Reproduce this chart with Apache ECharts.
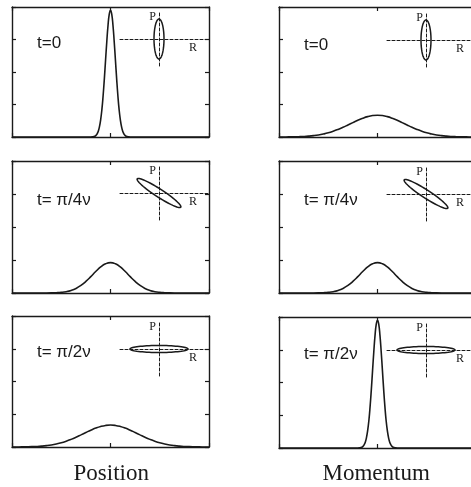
<!DOCTYPE html>
<html>
<head>
<meta charset="utf-8">
<script src="https://cdn.jsdelivr.net/npm/echarts@6/dist/echarts.min.js"></script>
<style>
  html, body { margin: 0; padding: 0; background: #fff; }
  #main { width: 471px; height: 487px; }
</style>
</head>
<body>
<div id="main"></div>
<script>
// narrow gaussian (read on a fine grid around the peak)
var narrowX = [-10, -2, -1.75, -1.625, -1.5, -1.375, -1.25, -1.125, -1, -0.875, -0.75, -0.625, -0.5, -0.375, -0.25, -0.125,
  0, 0.125, 0.25, 0.375, 0.5, 0.625, 0.75, 0.875, 1, 1.125, 1.25, 1.375, 1.5, 1.625, 1.75, 2, 10];
var narrowY = [0, 0, 0.01, 0.02, 0.04, 0.09, 0.17, 0.31, 0.53, 0.84, 1.27, 1.79, 2.37, 2.94, 3.44, 3.78,
  3.90, 3.78, 3.44, 2.94, 2.37, 1.79, 1.27, 0.84, 0.53, 0.31, 0.17, 0.09, 0.04, 0.02, 0.01, 0, 0];

// broad curves, read every half unit
var broadX = [-10, -9.5, -9, -8.5, -8, -7.5, -7, -6.5, -6, -5.5, -5, -4.5, -4, -3.5, -3, -2.5, -2, -1.5, -1, -0.5,
  0, 0.5, 1, 1.5, 2, 2.5, 3, 3.5, 4, 4.5, 5, 5.5, 6, 6.5, 7, 7.5, 8, 8.5, 9, 9.5, 10];
var midY = [0, 0, 0, 0, 0, 0, 0, 0.001, 0.004, 0.009, 0.019, 0.040, 0.078, 0.139, 0.229, 0.351, 0.496, 0.650, 0.788, 0.885,
  0.92, 0.885, 0.788, 0.650, 0.496, 0.351, 0.229, 0.139, 0.078, 0.040, 0.019, 0.009, 0.004, 0.001, 0, 0, 0, 0, 0, 0, 0];
var wideY = [0.001, 0.002, 0.003, 0.006, 0.010, 0.016, 0.026, 0.041, 0.062, 0.091, 0.128, 0.176, 0.233, 0.298, 0.370, 0.443, 0.514, 0.577, 0.627, 0.659,
  0.670, 0.659, 0.627, 0.577, 0.514, 0.443, 0.370, 0.298, 0.233, 0.176, 0.128, 0.091, 0.062, 0.041, 0.026, 0.016, 0.010, 0.006, 0.003, 0.002, 0.001];

// panels: position left column, momentum right column
var panelCurve = ['narrow', 'wide', 'mid', 'mid', 'wide', 'narrow'];
var timeLabels = ['t=0', 't=0', 't= π/4ν', 't= π/4ν', 't= π/2ν', 't= π/2ν'];
var columnLabels = ['Position', 'Momentum'];

// phase space ellipse per panel: semi axes (R, P) and tilt in degrees
var ellipseRx = [5, 5, 26, 26, 29, 29];
var ellipseRy = [20, 20, 4, 4, 3.5, 3.5];
var ellipseTilt = [0, 0, -33, -33, 0, 0];

function pairs(xs, ys) {
  return xs.map(function (x, i) { return [x, ys[i]]; });
}
var curves = {
  narrow: pairs(narrowX, narrowY),
  mid: pairs(broadX, midY),
  wide: pairs(broadX, wideY)
};

var ink = '#1a1a1a';
var colLeft = [12, 279];
var rowTop = [7, 161, 316];
var rowHeight = [130, 132, 131];
var panelW = 197;
var rowCenter = [39, 193, 349];
var labelCenter = [[45, 47], [202, 202], [354, 356]];

var grids = [], xAxes = [], yAxes = [], seriesList = [], texts = [];

function frameAxis(g, pos, isX) {
  var a = {
    type: 'value', gridIndex: g, position: pos,
    axisLine: { show: true, onZero: false, lineStyle: { color: ink, width: 1.4 } },
    axisTick: { show: true, inside: true, length: 4, lineStyle: { color: ink, width: 1.2 } },
    axisLabel: { show: false }, splitLine: { show: false }
  };
  if (isX) { a.min = -10; a.max = 10; a.interval = 10; }
  else { a.min = 0; a.max = 4; a.interval = 1; }
  return a;
}

function insetAxis(g, name, isX) {
  return {
    type: 'value', gridIndex: g,
    min: isX ? -39 : -27, max: isX ? 50 : 27,
    name: name, nameLocation: 'end', nameGap: isX ? -20 : -11,
    nameTextStyle: isX
      ? { color: ink, fontFamily: 'Liberation Serif', fontSize: 12, align: 'left', verticalAlign: 'top', padding: [3, 0, 0, 0] }
      : { color: ink, fontFamily: 'Liberation Serif', fontSize: 12, align: 'right', verticalAlign: 'bottom', padding: [0, 3, 0, 0] },
    axisLine: { show: true, onZero: true, lineStyle: { color: ink, width: 1, type: [3, 2] } },
    axisTick: { show: false }, axisLabel: { show: false }, splitLine: { show: false }
  };
}

function drawEllipse(params, api) {
  var c = api.coord([api.value(0), api.value(1)]);
  var s = api.size([api.value(2), api.value(3)]);
  var t = api.value(4) * Math.PI / 180;
  var pts = [];
  for (var k = 0; k < 72; k++) {
    var a = k / 72 * Math.PI * 2;
    var ex = s[0] * Math.cos(a), ey = s[1] * Math.sin(a);
    pts.push([c[0] + ex * Math.cos(t) + ey * Math.sin(t), c[1] - ex * Math.sin(t) + ey * Math.cos(t)]);
  }
  return {
    type: 'polygon',
    shape: { points: pts },
    style: { fill: 'none', stroke: ink, lineWidth: 1.5 }
  };
}

for (var i = 0; i < 6; i++) {
  var col = i % 2, row = Math.floor(i / 2);
  var panelLeft = colLeft[col];
  var panelTop = rowTop[row] + (col === 1 && row === 2 ? 1 : 0);

  // main panel
  grids.push({ left: panelLeft, top: panelTop, width: panelW, height: rowHeight[row], outerBoundsMode: 'none' });
  var g = grids.length - 1;
  var xb = xAxes.length;
  xAxes.push(frameAxis(g, 'bottom', true));
  xAxes.push(frameAxis(g, 'top', true));
  var yl = yAxes.length;
  yAxes.push(frameAxis(g, 'left', false));
  yAxes.push(frameAxis(g, 'right', false));

  seriesList.push({
    type: 'line', xAxisIndex: xb, yAxisIndex: yl,
    data: curves[panelCurve[i]],
    showSymbol: false, smooth: true, silent: true,
    lineStyle: { color: ink, width: 1.6 }
  });

  // phase space inset
  var cy = rowCenter[row] + (col === 1 ? 1 : 0);
  grids.push({ left: panelLeft + 108, top: cy - 27, width: 89, height: 54, outerBoundsMode: 'none' });
  var gi = grids.length - 1;
  var ix = xAxes.length;
  xAxes.push(insetAxis(gi, 'R', true));
  var iy = yAxes.length;
  yAxes.push(insetAxis(gi, 'P', false));

  seriesList.push({
    type: 'custom', xAxisIndex: ix, yAxisIndex: iy, silent: true,
    data: [[0, 0, ellipseRx[i], ellipseRy[i], ellipseTilt[i]]],
    renderItem: drawEllipse
  });

  texts.push({
    type: 'text', left: panelLeft + 25, top: labelCenter[row][col] - 10,
    style: { text: timeLabels[i], fill: ink, font: '17px "Liberation Sans"' }
  });
}

for (var c = 0; c < 2; c++) {
  texts.push({
    type: 'text', left: colLeft[c] + panelW / 2 - (c === 0 ? 37 : 55), top: 462,
    style: { text: columnLabels[c], fill: ink, font: '23px "Liberation Serif"' }
  });
}

var chart = echarts.init(document.getElementById('main'));
chart.setOption({
  backgroundColor: '#fff',
  animation: false,
  grid: grids,
  xAxis: xAxes,
  yAxis: yAxes,
  series: seriesList,
  graphic: texts
});
</script>
</body>
</html>
